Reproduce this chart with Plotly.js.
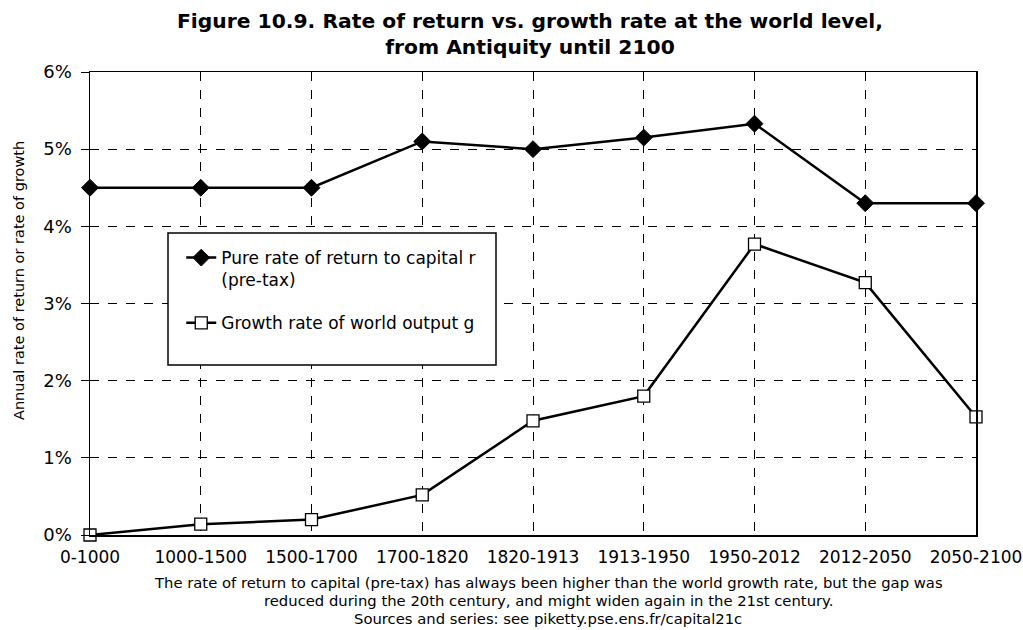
<!DOCTYPE html>
<html>
<head>
<meta charset="utf-8">
<script src="https://cdn.plot.ly/plotly-3.0.1.min.js"></script>
<style>html,body{margin:0;padding:0;background:#fff;}#chart{width:1023px;height:630px;}</style>
</head>
<body>
<div id="chart"></div>
<script>
const periods = ["0-1000","1000-1500","1500-1700","1700-1820","1820-1913","1913-1950","1950-2012","2012-2050","2050-2100"];
const returnRate = [4.5, 4.5, 4.5, 5.1, 5.0, 5.15, 5.33, 4.3, 4.3];
const growthRate = [0.0, 0.14, 0.2, 0.52, 1.48, 1.8, 3.77, 3.27, 1.53];
const yTickVals = [0, 1, 2, 3, 4, 5, 6];
const yTickText = ["0%", "1%", "2%", "3%", "4%", "5%", "6%"];
const seriesNames = ["Pure rate of return to capital r<br>(pre-tax)", "Growth rate of world output g"];
const titleText = "<b>Figure 10.9. Rate of return vs. growth rate at the world level,<br>from Antiquity until 2100</b>";
const yTitle = "Annual rate of return or rate of growth";
const noteLines = [
  "The rate of return to capital (pre-tax) has always been higher than the world growth rate, but the gap was",
  "reduced during the 20th century, and might widen again in the 21st century.",
  "Sources and series: see piketty.pse.ens.fr/capital21c"
];

const font = "DejaVu Sans, Liberation Sans, Arial, sans-serif";
const plotTop = 72, plotBottom = 535, plotLeft = 90, plotRight = 976;
const py = (pix) => (plotBottom - pix) / (plotBottom - plotTop);
const px = (pix) => (pix - plotLeft) / (plotRight - plotLeft);

const traces = [
  {
    x: periods, y: returnRate, name: seriesNames[0], type: "scatter", mode: "lines+markers",
    line: {color: "#000", width: 2.5},
    marker: {symbol: "diamond", size: 13, color: "#000", line: {color: "#000", width: 1}},
    cliponaxis: false, legendgroup: "a"
  },
  {
    x: periods, y: growthRate, name: seriesNames[1], type: "scatter", mode: "lines+markers",
    line: {color: "#000", width: 2.5},
    marker: {symbol: "square", size: 12, color: "#fff", line: {color: "#000", width: 1.3}},
    cliponaxis: false, legendgroup: "b"
  }
];

const annotations = [
  {text: titleText, xref: "paper", yref: "paper", x: px(530), y: py(7),
   xanchor: "center", yanchor: "top", showarrow: false, align: "center",
   font: {size: 20.3, family: font, color: "#000"}},
  {text: yTitle, xref: "paper", yref: "paper", x: px(19), y: py(281),
   xanchor: "center", yanchor: "middle", textangle: -90, showarrow: false,
   font: {size: 14.5, family: font, color: "#000"}}
];
const noteY = [582, 600, 618];
noteLines.forEach((t, i) => annotations.push({
  text: t, xref: "paper", yref: "paper", x: px(548), y: py(noteY[i]),
  xanchor: "center", yanchor: "middle", showarrow: false,
  font: {size: 14.8, family: font, color: "#000"}
}));

const layout = {
  width: 1023, height: 630,
  margin: {l: plotLeft, r: 1023 - plotRight, t: plotTop, b: 630 - plotBottom},
  paper_bgcolor: "#fff", plot_bgcolor: "#fff",
  font: {family: font, color: "#000", size: 16},
  showlegend: true,
  xaxis: {
    type: "category", range: [0, 8],
    showline: true, linecolor: "#000", linewidth: 1.5, mirror: true,
    showgrid: true, gridcolor: "#000", gridwidth: 1, griddash: "dash",
    ticks: "", tickfont: {size: 17, family: font}, ticklabelstandoff: 6,
    zeroline: false, fixedrange: true
  },
  yaxis: {
    range: [0, 6], tickvals: yTickVals, ticktext: yTickText,
    showline: true, linecolor: "#000", linewidth: 1.5, mirror: true,
    showgrid: true, gridcolor: "#000", gridwidth: 1, griddash: "dash",
    ticks: "outside", ticklen: 8, tickcolor: "#000", tickfont: {size: 18, family: font},
    ticklabelstandoff: 5,
    zeroline: false
  },
  legend: {
    x: 0.103, y: 0.637, xanchor: "left", yanchor: "top",
    bgcolor: "rgba(0,0,0,0)", borderwidth: 0,
    font: {size: 17, family: font},
    valign: "top", traceorder: "grouped", tracegroupgap: 18
  },
  shapes: [
    {type: "rect", xref: "paper", yref: "paper",
     x0: px(168), x1: px(496), y0: py(365), y1: py(233),
     line: {color: "#000", width: 1.5}, fillcolor: "#fff", layer: "above"}
  ],
  annotations: annotations
};

Plotly.newPlot("chart", traces, layout, {displayModeBar: false, staticPlot: true});
</script>
</body>
</html>
